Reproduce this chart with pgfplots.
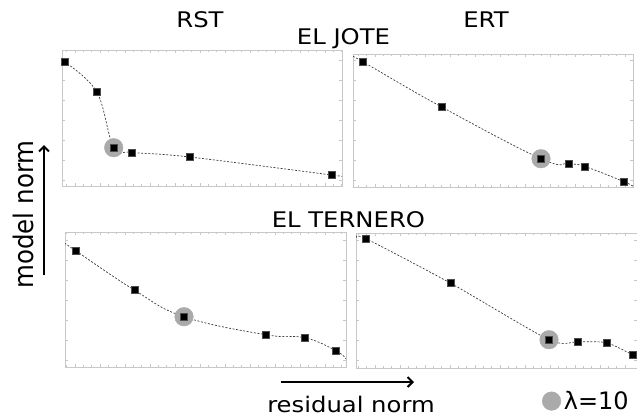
\documentclass[border=0pt]{standalone}
\usepackage{graphicx}
\usepackage{fontspec}
\setmainfont{DejaVu Sans}
\usepackage{pgfplots}
\pgfplotsset{compat=1.18}
\usetikzlibrary{arrows.meta}
\definecolor{framegray}{RGB}{200,200,200}
\definecolor{hlgray}{RGB}{170,170,170}
\definecolor{curvegray}{RGB}{60,60,60}
\newcommand{\tfont}{\fontsize{21.5bp}{25bp}\selectfont}
\pgfplotsset{
  panel/.style={
    scale only axis, anchor=south west,
    axis line style={draw=framegray, line width=0.9bp},
    every tick/.style={draw=framegray, line width=0.6bp},
    xticklabels={}, yticklabels={},
    xtick distance=25, minor x tick num=2,
    ytick distance=20, minor y tick num=0,
    major tick length=3bp, minor tick length=1.8bp,
    tick align=inside,
    y dir=reverse,
    clip=true,
  },
}
\tikzset{
  curve/.style={draw=curvegray, line width=0.7bp, dash pattern=on 2bp off 1.6bp},
  sq/.style={only marks, mark=square*, mark size=3.6bp, mark options={fill=black, draw=black!70, line width=0.4bp}},
  hl/.style={only marks, mark=*, mark size=9.3bp, color=hlgray, mark options={fill=hlgray, draw=hlgray}},
}
\begin{document}
\begin{tikzpicture}[x=1bp, y=-1bp]
\path[use as bounding box] (0,0) rectangle (637,419);

% EL JOTE, RST
\begin{axis}[panel, at={(62,186)}, width=280bp, height=136bp,
  xmin=62, xmax=342, ymin=50, ymax=186]
\addplot[hl, forget plot] coordinates {(113.7,147.7)};
\addplot[curve, smooth, tension=0.6, forget plot] coordinates {(64.3,61.7)(96.7,91.7)(113.7,147.7)(132,152.3)(189.7,157)(331.7,175)(342.3,176.7)};
\addplot[sq, forget plot] coordinates {(64.3,61.7)(96.7,91.7)(113.7,147.7)(132,152.3)(189.7,157)(331.7,175)};
\end{axis}

% EL JOTE, ERT
\begin{axis}[panel, at={(353,187)}, width=280bp, height=133bp,
  xmin=353, xmax=633, ymin=54, ymax=187]
\addplot[hl, forget plot] coordinates {(541,158.7)};
\addplot[curve, smooth, tension=0.7, forget plot] coordinates {(353.3,56.7)(362.7,61.7)(441.7,107)(541,158.7)(568.7,163.7)(584.3,166.3)(624,181.7)(633.3,186.7)};
\addplot[sq, forget plot] coordinates {(362.7,61.7)(441.7,107)(541,158.7)(568.7,163.7)(584.3,166.3)(624,181.7)};
\end{axis}

% EL TERNERO, RST
\begin{axis}[panel, at={(65,367)}, width=281bp, height=135bp,
  xmin=65, xmax=346, ymin=232, ymax=367]
\addplot[hl, forget plot] coordinates {(184,316.7)};
\addplot[curve, smooth, tension=0.7, forget plot] coordinates {(65,243.3)(75.7,250.7)(134.3,290)(184,316.7)(265.7,334.7)(304.7,337.7)(336,350.7)(346,359)};
\addplot[sq, forget plot] coordinates {(75.7,250.7)(134.3,290)(184,316.7)(265.7,334.7)(304.7,337.7)(336,350.7)};
\end{axis}

% EL TERNERO, ERT
\begin{axis}[panel, at={(356,368)}, width=281bp, height=135bp,
  xmin=356, xmax=637, ymin=233, ymax=368,
  legend style={at={(0.662,-0.245)}, anchor=west, draw=none, fill=none,
    inner sep=0pt, font=\fontsize{24bp}{27bp}\selectfont,
    nodes={inner xsep=3bp, inner ysep=1.5bp}},
  legend image code/.code={\draw[mark repeat=2, mark phase=2, #1] plot coordinates {(0bp,0bp)(9.5bp,0bp)(19bp,0bp)};}]
\addplot[hl] coordinates {(549,339.7)};
\addlegendentry{λ=10}
\addplot[curve, smooth, tension=0.45, forget plot] coordinates {(356,237.7)(366,238.7)(450.3,283)(549,339.7)(578,341.7)(606.3,342.7)(632.3,354.7)(640,360)};
\addplot[sq, forget plot] coordinates {(366,238.7)(450.3,283)(549,339.7)(578,341.7)(606.3,342.7)(632.3,354.7)};
\end{axis}

% titles and axis captions
\node[anchor=base, inner sep=0pt] at (200,27) {\tfont\scalebox{1.13}[1]{RST}};
\node[anchor=base, inner sep=0pt] at (486,27) {\tfont\scalebox{1.13}[1]{ERT}};
\node[anchor=base, inner sep=0pt] at (343.5,44.3) {\tfont\scalebox{1.13}[1]{EL JOTE}};
\node[anchor=base, inner sep=0pt] at (348.4,227.3) {\tfont\scalebox{1.13}[1]{EL TERNERO}};
\node[anchor=base, inner sep=0pt] at (351,412) {\tfont\scalebox{1.13}[1]{residual norm}};
\node[anchor=base, inner sep=0pt, rotate=90] at (33.3,214.5) {\fontsize{24.5bp}{28bp}\selectfont\scalebox{1}[1.1]{model norm}};

\draw[line width=2bp, -{Straight Barb[length=5bp, width=10bp, line width=2bp]}] (44,275) -- (44,145);
\draw[line width=2bp, -{Straight Barb[length=5bp, width=10bp, line width=2bp]}] (281,382) -- (414,382);
\end{tikzpicture}
\end{document}
